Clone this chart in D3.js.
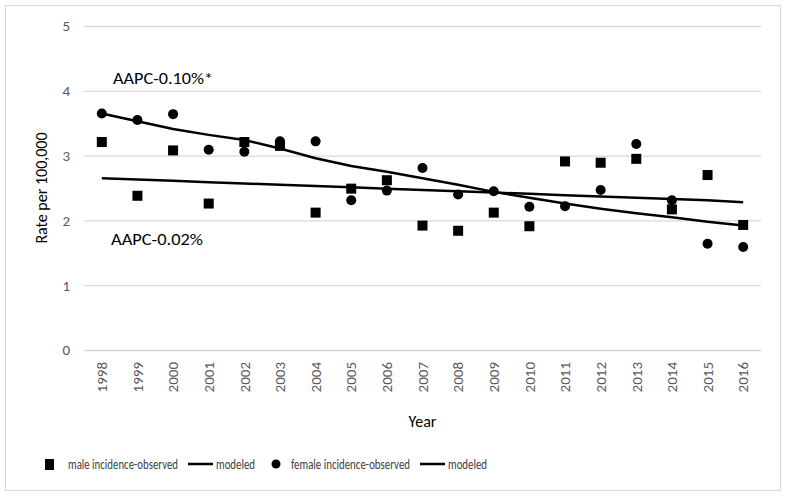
<!DOCTYPE html>
<html>
<head>
<meta charset="utf-8">
<script src="https://cdn.jsdelivr.net/npm/d3@7"></script>
<style>
  body { margin: 0; background: #fff; }
  text { font-family: Carlito, Lato, "Open Sans", sans-serif; }
</style>
</head>
<body>
<script>
var years = ['1998','1999','2000','2001','2002','2003','2004','2005','2006','2007',
             '2008','2009','2010','2011','2012','2013','2014','2015','2016'];
var maleObserved = [3.21, 2.38, 3.08, 2.26, 3.21, 3.15, 2.12, 2.49, 2.62, 1.92,
                    1.84, 2.12, 1.91, 2.91, 2.89, 2.95, 2.17, 2.70, 1.93];
var maleModeled = [2.65, 2.63, 2.61, 2.59, 2.57, 2.55, 2.53, 2.51, 2.49, 2.47,
                   2.45, 2.43, 2.41, 2.39, 2.37, 2.35, 2.33, 2.31, 2.28];
var femaleObserved = [3.65, 3.55, 3.64, 3.09, 3.06, 3.22, 3.22, 2.31, 2.46, 2.81,
                      2.40, 2.45, 2.21, 2.22, 2.47, 3.18, 2.31, 1.64, 1.59];
var femaleModeled = [3.65, 3.53, 3.41, 3.32, 3.24, 3.11, 2.96, 2.84, 2.75, 2.65,
                     2.55, 2.44, 2.35, 2.26, 2.18, 2.11, 2.05, 1.98, 1.92];
var yTicks = [0, 1, 2, 3, 4, 5];

var width = 789;
var height = 498;
var padding = { top: 26, right: 28, bottom: 148, left: 84 };

var svg = d3.select('body')
            .append('svg')
            .attr('width', width)
            .attr('height', height);

// chart frame
svg.append('rect')
  .attr('x', 5.5).attr('y', 5.5)
  .attr('width', 775).attr('height', 485)
  .attr('fill', '#fff')
  .attr('stroke', '#d9d9d9');

var xScale = d3.scaleBand()
              .domain(years)
              .range([padding.left, width - padding.right]);
var yScale = d3.scaleLinear()
              .domain([0, 5])
              .range([height - padding.bottom, padding.top]);

// gridlines + y labels
var yAxis = d3.axisLeft(yScale)
              .tickValues(yTicks)
              .tickFormat(d3.format('d'))
              .tickSize(-(width - padding.left - padding.right))
              .tickPadding(14);
var gy = svg.append('g')
  .attr('transform', 'translate(' + padding.left + ',0)')
  .call(yAxis);
gy.select('.domain').remove();
gy.selectAll('line').attr('stroke', '#d9d9d9').attr('stroke-width', 1.3);
gy.selectAll('text').attr('fill', '#595959').style('font-size', '15px');

// x labels
var xAxis = d3.axisBottom(xScale).tickSize(0);
var gx = svg.append('g')
  .attr('transform', 'translate(0,' + yScale(0) + ')')
  .call(xAxis);
gx.select('.domain').remove();
gx.selectAll('text')
  .attr('fill', '#595959')
  .style('font-size', '15px')
  .attr('transform', 'rotate(-90)')
  .attr('text-anchor', 'end')
  .attr('x', -12)
  .attr('y', 0)
  .attr('dy', '0.35em');

// axis titles
svg.append('text')
  .attr('transform', 'translate(47,' + yScale(2.5) + ') rotate(-90)')
  .attr('text-anchor', 'middle')
  .style('font-size', '16px')
  .text('Rate per 100,000');
svg.append('text')
  .attr('x', (padding.left + width - padding.right) / 2)
  .attr('y', 427)
  .attr('text-anchor', 'middle')
  .style('font-size', '16px')
  .text('Year');

var cx = function(i) { return xScale(years[i]) + xScale.bandwidth() / 2; };
var line = d3.line()
  .x(function(d, i) { return cx(i); })
  .y(function(d) { return yScale(d); });

svg.append('path').attr('d', line(maleModeled))
  .attr('fill', 'none').attr('stroke', '#000').attr('stroke-width', 2.5);
svg.append('path').attr('d', line(femaleModeled))
  .attr('fill', 'none').attr('stroke', '#000').attr('stroke-width', 2.5);

svg.append('g').selectAll('rect')
  .data(maleObserved)
  .enter()
  .append('rect')
  .attr('x', function(d, i) { return cx(i) - 5; })
  .attr('y', function(d) { return yScale(d) - 5; })
  .attr('width', 10).attr('height', 10)
  .attr('fill', '#000');

svg.append('g').selectAll('circle')
  .data(femaleObserved)
  .enter()
  .append('circle')
  .attr('cx', function(d, i) { return cx(i); })
  .attr('cy', function(d) { return yScale(d); })
  .attr('r', 5)
  .attr('fill', '#000');

// annotations
svg.append('text').attr('x', 113).attr('y', 84)
  .attr('textLength', 100).attr('lengthAdjust', 'spacingAndGlyphs')
  .style('font-size', '17px').text('AAPC-0.10%*');
svg.append('text').attr('x', 111).attr('y', 245)
  .attr('textLength', 92).attr('lengthAdjust', 'spacingAndGlyphs')
  .style('font-size', '17px').text('AAPC-0.02%');

// legend
var ly = 464;
var legend = svg.append('g').style('font-size', '14px').attr('fill', '#404040');
legend.append('rect').attr('x', 45).attr('y', ly - 5).attr('width', 9).attr('height', 11).attr('fill', '#000');
legend.append('text').attr('x', 68).attr('y', ly + 5)
  .attr('textLength', 110).attr('lengthAdjust', 'spacingAndGlyphs')
  .text('male incidence-observed');
legend.append('line').attr('x1', 188).attr('x2', 213).attr('y1', ly).attr('y2', ly)
  .attr('stroke', '#000').attr('stroke-width', 2.5);
legend.append('text').attr('x', 216).attr('y', ly + 5)
  .attr('textLength', 39).attr('lengthAdjust', 'spacingAndGlyphs')
  .text('modeled');
legend.append('circle').attr('cx', 276).attr('cy', ly).attr('r', 4.5).attr('fill', '#000');
legend.append('text').attr('x', 291).attr('y', ly + 5)
  .attr('textLength', 119).attr('lengthAdjust', 'spacingAndGlyphs')
  .text('female incidence-observed');
legend.append('line').attr('x1', 420).attr('x2', 445).attr('y1', ly).attr('y2', ly)
  .attr('stroke', '#000').attr('stroke-width', 2.5);
legend.append('text').attr('x', 448).attr('y', ly + 5)
  .attr('textLength', 39).attr('lengthAdjust', 'spacingAndGlyphs')
  .text('modeled');
</script>
</body>
</html>
